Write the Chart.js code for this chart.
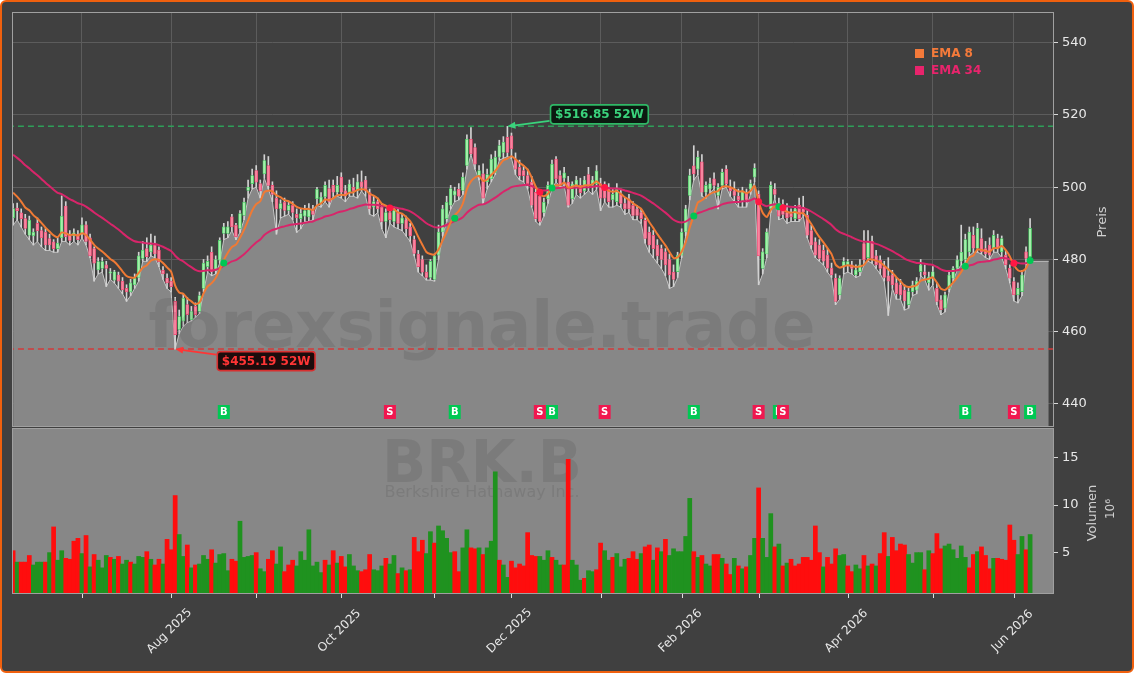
<!DOCTYPE html>
<html>
<head>
<meta charset="utf-8">
<script src="https://cdn.jsdelivr.net/npm/chart.js@4.4.1/dist/chart.umd.min.js"></script>
<style>
    html, body { margin: 0; padding: 0; background: #ffffff; }
    #frame { position: absolute; left: 0; top: 0; width: 1134px; height: 673px; box-sizing: border-box;
             border: 2px solid #f0600e; border-radius: 6px; background: #404040; }
    canvas { position: absolute; left: 0; }
</style>
</head>
<body>
<div id="frame"></div>
<canvas id="priceChart" width="1134" height="430" style="top:0px"></canvas>
<canvas id="volChart" width="1134" height="245" style="top:428px"></canvas>
<script>
// ========== DATA (BRK.B daily, Jun 2025 - Jun 2026) ==========
const opens = [
    491.5, 494.2, 492.9, 491.3, 486.7, 486.5, 490.0, 488.0, 487.6, 485.8,
    484.9, 483.0, 486.0, 494.8, 486.9, 486.5, 487.0, 487.2, 489.6, 486.0,
    483.0, 477.1, 477.5, 478.5, 476.2, 474.3, 475.7, 474.0, 472.0, 471.0,
    473.0, 475.0, 480.3, 483.0, 482.1, 484.0, 482.6, 477.0, 474.8, 474.0,
    468.4, 460.6, 462.9, 467.5, 463.3, 467.0, 465.6, 472.0, 478.0, 482.0,
    477.0, 479.8, 487.2, 487.2, 491.8, 489.5, 488.6, 492.2, 499.1, 501.0,
    504.6, 501.0, 503.7, 506.0, 500.5, 497.0, 494.0, 495.9, 493.6, 495.0,
    492.5, 491.3, 492.0, 491.8, 494.0, 496.8, 495.5, 497.3, 499.6, 500.5,
    498.6, 502.8, 499.0, 498.6, 500.0, 499.0, 501.5, 502.0, 498.5, 494.5,
    496.0, 494.5, 490.5, 493.0, 490.5, 493.0, 490.0, 491.0, 489.0, 485.5,
    481.5, 480.0, 476.5, 475.0, 474.5, 481.2, 487.6, 491.3, 495.0, 497.8,
    499.5, 499.1, 506.0, 513.3, 511.0, 503.2, 503.7, 501.5, 502.3, 504.1,
    508.3, 509.6, 513.8, 514.2, 507.8, 505.5, 504.6, 503.2, 501.4, 498.6,
    497.5, 493.0, 496.8, 500.5, 507.8, 503.2, 502.5, 501.4, 496.8, 500.0,
    500.5, 499.0, 503.5, 500.5, 501.0, 501.0, 500.5, 499.5, 496.5, 496.0,
    498.0, 495.5, 496.8, 495.0, 494.0, 493.0, 490.8, 487.5, 486.7, 484.0,
    483.0, 482.1, 480.0, 476.5, 476.6, 481.2, 487.6, 497.7, 505.9, 505.0,
    507.0, 498.6, 499.5, 502.3, 497.7, 500.5, 505.0, 500.0, 499.0, 497.5,
    496.0, 498.5, 499.5, 502.8, 498.0, 477.5, 481.5, 494.0, 499.5, 495.5,
    494.0, 493.0, 492.7, 491.3, 495.0, 494.5, 492.2, 488.0, 484.9, 484.0,
    482.5, 481.2, 477.6, 474.8, 470.2, 478.0, 478.5, 478.5, 475.7, 476.6,
    484.4, 480.5, 485.0, 481.0, 479.8, 478.0, 475.5, 475.7, 473.5, 473.0,
    471.5, 467.5, 471.1, 471.5, 476.6, 476.6, 473.5, 474.8, 472.0, 468.8,
    466.5, 472.0, 474.8, 477.6, 479.5, 480.0, 482.1, 486.7, 483.1, 485.8,
    483.0, 484.0, 483.1, 485.8, 482.1, 481.2, 477.6, 473.9, 470.2, 471.1,
    482.1, 480.8
];
const highs = [
    495.5, 495.6, 494.0, 492.5, 492.0, 488.5, 491.5, 489.0, 488.5, 487.0,
    485.5, 486.0, 497.6, 496.0, 488.0, 488.5, 488.0, 491.5, 490.5, 487.0,
    483.5, 480.5, 480.5, 479.5, 477.5, 477.0, 476.5, 475.0, 473.0, 474.5,
    476.0, 482.0, 485.0, 486.0, 487.0, 486.5, 483.5, 478.0, 476.0, 475.0,
    469.5, 466.0, 470.5, 469.5, 467.0, 468.0, 471.0, 480.0, 481.0, 483.5,
    481.0, 486.0, 490.0, 490.5, 492.5, 490.0, 493.5, 497.0, 502.0, 505.0,
    506.0, 502.0, 509.0, 508.5, 501.5, 499.0, 496.5, 497.0, 496.0, 496.0,
    494.0, 494.0, 495.0, 495.5, 495.0, 500.0, 498.5, 501.5, 502.0, 502.0,
    503.0, 504.0, 500.5, 502.0, 502.5, 503.5, 504.5, 503.0, 499.5, 497.5,
    497.0, 495.5, 494.0, 494.0, 494.5, 494.0, 492.5, 492.0, 490.0, 486.5,
    482.5, 481.0, 478.5, 480.0, 481.5, 489.5, 495.0, 497.5, 500.5, 500.0,
    501.0, 504.0, 514.5, 516.5, 512.0, 506.0, 506.5, 505.0, 509.0, 510.0,
    513.0, 514.0, 516.85, 515.0, 509.5, 507.5, 506.0, 505.0, 503.0, 500.0,
    499.0, 497.0, 501.5, 507.5, 508.5, 504.5, 505.5, 503.0, 501.5, 503.0,
    502.5, 503.0, 505.5, 503.0, 506.0, 502.5, 501.5, 501.0, 499.5, 501.0,
    499.5, 497.0, 498.0, 496.0, 495.0, 494.0, 491.5, 489.0, 488.0, 485.5,
    484.0, 483.0, 481.5, 478.5, 482.0, 488.5, 495.0, 505.0, 511.5, 510.0,
    509.0, 501.5, 502.5, 504.0, 501.0, 505.0, 506.0, 502.0, 501.5, 499.5,
    500.0, 499.5, 502.0, 506.5, 499.0, 483.0, 488.5, 501.5, 501.0, 497.0,
    496.5, 495.5, 494.0, 495.0, 497.0, 497.5, 493.5, 489.5, 486.0, 485.5,
    484.0, 483.0, 479.0, 476.0, 475.5, 480.5, 480.0, 479.5, 478.5, 480.0,
    488.0, 488.0, 486.5, 482.5, 481.0, 479.5, 480.5, 477.0, 475.0, 474.5,
    473.0, 472.0, 474.0, 475.0, 480.0, 478.5, 476.5, 478.0, 473.5, 470.0,
    471.0, 476.5, 478.0, 481.0, 489.5, 487.0, 489.0, 489.0, 490.0, 488.5,
    485.0, 486.0, 488.0, 487.0, 486.5, 482.5, 478.5, 475.0, 473.5, 477.0,
    483.5, 491.3
];
const lows = [
    489.5, 491.0, 489.0, 487.0, 485.5, 484.0, 485.0, 483.5, 482.5, 482.5,
    482.0, 482.0, 485.0, 485.0, 484.0, 485.0, 484.0, 486.0, 484.0, 480.5,
    474.0, 476.0, 476.5, 472.5, 474.5, 473.5, 472.0, 470.5, 468.4, 470.0,
    472.0, 474.0, 479.5, 479.5, 481.0, 480.5, 478.0, 474.5, 472.0, 471.0,
    455.19, 459.5, 461.5, 462.5, 463.0, 464.0, 465.0, 471.0, 476.5, 475.5,
    476.0, 479.0, 485.5, 486.0, 488.0, 485.5, 487.5, 491.0, 497.0, 499.5,
    500.0, 497.0, 502.5, 499.5, 496.0, 487.0, 491.5, 492.0, 492.5, 491.0,
    487.5, 488.5, 490.5, 490.5, 491.0, 495.0, 494.5, 496.0, 494.5, 497.5,
    497.5, 497.0, 496.0, 497.5, 497.5, 497.0, 499.0, 497.5, 492.5, 492.0,
    493.0, 488.5, 486.0, 490.0, 489.0, 488.5, 488.0, 486.5, 485.0, 481.0,
    476.5, 475.5, 474.3, 474.3, 474.0, 480.0, 486.5, 490.5, 494.0, 496.0,
    496.5, 498.0, 505.0, 509.0, 505.0, 502.0, 495.5, 499.5, 501.5, 503.5,
    507.5, 508.0, 508.5, 508.0, 503.5, 502.0, 501.5, 499.5, 494.5, 490.5,
    489.5, 492.0, 495.5, 499.5, 501.5, 500.0, 500.5, 494.5, 495.5, 498.0,
    497.0, 498.0, 499.0, 498.0, 499.5, 493.5, 496.0, 494.5, 494.5, 495.0,
    494.5, 492.5, 493.0, 491.0, 491.0, 490.0, 484.5, 482.0, 480.5, 479.0,
    477.5, 475.5, 472.0, 472.5, 475.0, 480.5, 486.5, 496.5, 502.0, 503.5,
    497.5, 497.0, 498.5, 499.5, 494.0, 499.5, 500.0, 497.5, 496.0, 494.5,
    494.5, 494.5, 498.0, 501.5, 473.0, 476.0, 480.5, 493.0, 497.0, 491.0,
    491.5, 490.0, 490.5, 490.5, 490.5, 492.0, 486.0, 483.0, 480.5, 479.5,
    478.5, 476.5, 475.0, 467.5, 469.0, 476.0, 476.5, 476.0, 475.0, 475.5,
    478.5, 479.5, 479.0, 477.5, 476.0, 474.0, 464.5, 472.0, 469.0, 469.0,
    466.0, 466.5, 470.0, 470.5, 475.5, 474.5, 471.5, 473.0, 467.5, 464.7,
    465.5, 471.0, 474.0, 477.0, 478.5, 479.0, 481.0, 482.0, 482.0, 481.5,
    480.5, 480.0, 482.0, 482.0, 480.5, 477.5, 473.5, 468.5, 468.0, 470.0,
    478.5, 479.5
];
const closes = [
    494.1, 493.5, 491.3, 488.6, 490.9, 487.6, 488.0, 486.0, 484.0, 484.0,
    483.0, 484.5, 492.0, 486.3, 485.3, 487.4, 485.5, 489.6, 485.0, 481.0,
    479.0, 479.4, 479.4, 477.5, 476.6, 476.6, 474.0, 471.6, 471.0, 473.5,
    474.8, 481.0, 482.6, 480.8, 484.0, 481.5, 479.4, 476.0, 473.5, 472.5,
    459.2, 464.2, 469.3, 464.7, 465.6, 464.7, 470.0, 479.0, 479.5, 476.6,
    480.0, 485.3, 489.0, 489.0, 489.0, 486.3, 492.7, 495.9, 500.0, 503.2,
    501.4, 499.0, 507.4, 500.5, 498.0, 494.0, 495.5, 493.6, 495.0, 493.0,
    491.5, 492.7, 493.5, 494.0, 492.5, 499.5, 497.3, 500.5, 495.9, 498.6,
    500.5, 498.6, 497.5, 500.9, 499.0, 501.5, 500.0, 499.0, 494.0, 496.0,
    494.0, 490.5, 493.0, 491.0, 493.5, 490.0, 491.5, 488.5, 486.5, 481.7,
    478.0, 476.5, 475.0, 479.5, 481.0, 487.6, 494.0, 495.9, 499.6, 499.0,
    497.5, 502.8, 513.3, 509.2, 506.4, 504.6, 497.0, 503.5, 507.8, 508.3,
    511.5, 512.5, 509.6, 510.6, 505.0, 503.2, 503.2, 501.0, 495.0, 491.3,
    490.5, 495.9, 500.5, 506.4, 502.3, 500.5, 504.0, 495.0, 500.9, 502.0,
    498.5, 502.0, 500.5, 502.0, 504.5, 497.0, 497.0, 496.0, 498.0, 499.5,
    495.5, 494.0, 494.0, 492.2, 492.2, 491.3, 485.8, 484.0, 483.0, 481.0,
    480.0, 478.5, 475.7, 474.5, 481.2, 487.6, 494.0, 503.2, 503.7, 508.3,
    498.6, 500.5, 501.0, 500.5, 500.0, 504.1, 500.9, 499.0, 497.7, 496.5,
    499.0, 496.5, 501.0, 505.2, 481.0, 482.1, 487.6, 500.5, 498.0, 492.0,
    492.5, 491.5, 491.8, 494.0, 491.3, 493.1, 486.7, 484.0, 481.2, 480.3,
    479.5, 477.6, 475.7, 468.4, 474.8, 479.4, 479.4, 477.5, 477.1, 478.5,
    479.9, 485.0, 480.3, 478.5, 477.5, 475.0, 474.0, 473.0, 470.5, 470.2,
    468.5, 471.1, 473.0, 474.0, 478.5, 475.7, 475.2, 476.6, 468.4, 466.1,
    470.2, 475.7, 477.5, 479.9, 482.0, 485.5, 487.6, 483.1, 488.6, 482.1,
    481.5, 481.2, 486.7, 483.1, 485.8, 478.5, 474.8, 470.2, 472.0, 475.7,
    480.3, 488.6
];
// volume in millions, and direction of each volume bar (1 = green, 0 = red)
const volumes = [
    5.2, 4.0, 4.0, 4.0, 4.7, 3.7, 4.0, 4.0, 4.0, 5.0,
    7.7, 4.2, 5.2, 4.4, 4.3, 6.2, 6.5, 4.9, 6.8, 3.5,
    4.8, 4.2, 3.4, 4.7, 4.5, 4.3, 4.6, 3.8, 4.2, 4.0,
    3.8, 4.6, 4.5, 5.1, 4.3, 3.7, 4.3, 3.8, 6.4, 5.3,
    11.0, 6.9, 4.6, 5.8, 3.4, 3.7, 3.8, 4.7, 4.3, 5.3,
    3.9, 4.8, 4.9, 3.1, 4.3, 4.1, 8.3, 4.5, 4.6, 4.7,
    5.0, 3.3, 3.0, 4.3, 5.2, 3.8, 5.6, 3.0, 3.7, 4.2,
    3.6, 5.1, 4.2, 7.4, 3.6, 4.0, 2.9, 4.2, 3.7, 5.2,
    3.9, 4.6, 3.5, 4.8, 3.6, 3.1, 3.0, 3.2, 4.8, 3.2,
    3.1, 3.6, 4.4, 3.8, 4.7, 2.8, 3.4, 3.1, 3.2, 6.6,
    5.1, 6.3, 4.9, 7.2, 6.0, 7.8, 7.3, 6.5, 5.0, 5.1,
    3.0, 5.5, 7.4, 5.5, 5.4, 5.5, 4.8, 5.5, 6.2, 13.5,
    4.2, 3.7, 2.4, 4.1, 3.4, 3.8, 3.6, 7.1, 4.7, 4.6,
    4.6, 4.2, 5.2, 4.5, 4.2, 3.7, 3.7, 14.8, 4.2, 3.7,
    2.1, 2.3, 3.1, 3.0, 3.2, 6.0, 5.2, 4.2, 4.5, 4.9,
    3.5, 4.3, 4.4, 5.1, 4.3, 4.9, 5.6, 5.8, 4.2, 5.5,
    5.1, 6.4, 4.7, 5.4, 5.1, 5.1, 6.7, 10.7, 5.1, 4.5,
    4.7, 3.8, 3.6, 4.8, 4.8, 4.4, 3.8, 2.7, 4.4, 3.6,
    3.3, 3.5, 4.7, 6.5, 11.8, 6.5, 4.5, 9.1, 5.6, 5.9,
    3.6, 3.9, 4.3, 3.6, 3.8, 4.5, 4.5, 4.2, 7.8, 5.0,
    3.5, 4.5, 3.8, 5.4, 4.7, 4.8, 3.6, 3.0, 3.7, 3.3,
    4.7, 3.6, 3.8, 3.6, 4.9, 7.1, 4.6, 6.6, 5.2, 5.9,
    5.8, 4.8, 3.9, 5.0, 5.0, 3.2, 5.2, 4.9, 7.0, 5.4,
    5.7, 5.9, 5.3, 4.4, 5.7, 4.5, 3.4, 4.8, 5.1, 5.6,
    4.7, 3.3, 4.4, 4.4, 4.3, 4.2, 7.9, 6.3, 4.8, 6.7,
    5.3, 6.9
];
const volUp = [
    0, 1, 0, 0, 0, 1, 1, 1, 0, 1,
    0, 1, 1, 0, 0, 0, 0, 1, 0, 1,
    0, 1, 1, 1, 0, 1, 0, 1, 1, 0,
    1, 1, 1, 0, 1, 0, 0, 1, 0, 0,
    0, 1, 1, 0, 1, 0, 1, 1, 1, 0,
    1, 1, 1, 1, 0, 0, 1, 1, 1, 1,
    0, 1, 1, 0, 0, 1, 1, 0, 0, 0,
    1, 1, 1, 1, 1, 1, 1, 0, 1, 0,
    1, 0, 0, 1, 1, 1, 0, 0, 0, 1,
    1, 1, 0, 1, 1, 0, 1, 0, 1, 0,
    0, 0, 1, 1, 0, 1, 1, 1, 1, 0,
    0, 1, 1, 0, 0, 1, 0, 1, 1, 1,
    0, 1, 1, 0, 0, 0, 0, 0, 0, 0,
    1, 1, 1, 0, 1, 1, 0, 0, 1, 1,
    1, 0, 1, 1, 0, 0, 1, 1, 0, 1,
    1, 1, 0, 0, 0, 1, 0, 0, 1, 0,
    1, 0, 1, 1, 1, 1, 1, 1, 0, 1,
    0, 1, 1, 0, 0, 1, 0, 0, 1, 0,
    1, 0, 1, 1, 0, 1, 1, 1, 0, 1,
    0, 1, 0, 0, 0, 0, 0, 0, 0, 0,
    1, 0, 0, 0, 1, 1, 0, 0, 1, 1,
    0, 1, 0, 1, 0, 0, 1, 0, 0, 0,
    0, 1, 1, 1, 1, 0, 1, 0, 0, 0,
    1, 1, 1, 1, 1, 1, 0, 0, 1, 0,
    0, 0, 1, 0, 0, 0, 0, 0, 1, 1,
    0, 1
];

// EMA seed values (indicator level on the first visible bar)
const ema8Seed = 498.5;
const ema34Seed = 509.0;

// crossover signals (bar index, type)
const signalIdx = [52, 93, 109, 130, 133, 146, 168, 184, 189, 190, 235, 247, 251];
const signalType = ['B', 'S', 'B', 'S', 'B', 'S', 'B', 'S', 'B', 'S', 'B', 'S', 'B'];

// x axis: bar index of first trading day of each month
const monthIdx = [17, 39, 60, 81, 104, 123, 145, 165, 184, 206, 227, 247];
const monthLabels = ['', 'Aug 2025', '', 'Oct 2025', '', 'Dec 2025', '', 'Feb 2026', '', 'Apr 2026', '', 'Jun 2026'];
const priceTicks = [440, 460, 480, 500, 520, 540];
const volTicks = [5, 10, 15];
const fillEndIndex = 255.6;

// ========== HELPERS ==========
function calcEma(values, period, seed) {
    const k = 2 / (period + 1);
    const out = [];
    let prev = seed;
    values.forEach((v, i) => {
        prev = i === 0 ? seed : prev + k * (v - prev);
        out.push(prev);
    });
    return out;
}

const FONT = '"DejaVu Sans", sans-serif';
Chart.defaults.font.family = FONT;
Chart.defaults.color = '#e8e8e8';

const X_MIN = -0.27, X_MAX = 256.9;
const idx = closes.map((_, i) => i);
const ema8 = calcEma(closes, 8, ema8Seed);
const ema34 = calcEma(closes, 34, ema34Seed);
const hiVal = Math.max(...highs), hiIdx = highs.indexOf(hiVal);
const loVal = Math.min(...lows), loIdx = lows.indexOf(loVal);

// no extra label padding, so the plot areas land exactly where asked
function fixY(s) { s.width = 80; s.paddingTop = 0; s.paddingBottom = 0; }
function fixX(h) { return s => { s.height = h; s.paddingLeft = 0; s.paddingRight = 0; }; }

function roundRect(ctx, x, y, w, h, r) {
    ctx.beginPath();
    ctx.moveTo(x + r, y);
    ctx.arcTo(x + w, y, x + w, y + h, r);
    ctx.arcTo(x + w, y + h, x, y + h, r);
    ctx.arcTo(x, y + h, x, y, r);
    ctx.arcTo(x, y, x + w, y, r);
    ctx.closePath();
}

function drawTag(ctx, tipX, tipY, cx, cy, text, fg, edge, bg) {
    ctx.font = 'bold 12px ' + FONT;
    const w = ctx.measureText(text).width + 9, h = 19;
    const left = cx - w / 2, top = cy - h / 2;
    // arrow
    const sx = left - 1;
    const sy = Math.min(Math.max(tipY, top + 3), top + h - 3);
    const ang = Math.atan2(tipY - sy, tipX - sx);
    ctx.strokeStyle = fg;
    ctx.lineWidth = 1.8;
    ctx.beginPath();
    ctx.moveTo(sx, sy);
    ctx.lineTo(tipX - 6 * Math.cos(ang), tipY - 6 * Math.sin(ang));
    ctx.stroke();
    ctx.fillStyle = fg;
    ctx.beginPath();
    ctx.moveTo(tipX, tipY);
    ctx.lineTo(tipX - 8 * Math.cos(ang) + 3.5 * Math.sin(ang), tipY - 8 * Math.sin(ang) - 3.5 * Math.cos(ang));
    ctx.lineTo(tipX - 8 * Math.cos(ang) - 3.5 * Math.sin(ang), tipY - 8 * Math.sin(ang) + 3.5 * Math.cos(ang));
    ctx.closePath();
    ctx.fill();
    // box
    roundRect(ctx, left, top, w, h, 3);
    ctx.fillStyle = bg;
    ctx.fill();
    ctx.lineWidth = 1.6;
    ctx.strokeStyle = edge;
    ctx.stroke();
    ctx.fillStyle = fg;
    ctx.textAlign = 'center';
    ctx.textBaseline = 'middle';
    ctx.fillText(text, cx, cy + 1);
}

// ========== PRICE PANEL ==========
const priceDeco = {
    id: 'priceDeco',
    afterDatasetsDraw(chart) {
        const { ctx, chartArea: a, scales: { x, y } } = chart;
        ctx.save();
        // watermark
        ctx.font = 'bold 64px ' + FONT;
        ctx.fillStyle = 'rgba(40,40,40,0.12)';
        ctx.textAlign = 'center';
        ctx.textBaseline = 'alphabetic';
        ctx.fillText('forexsignale.trade', 482, 347);

        // B / S markers
        ctx.font = 'bold 10px ' + FONT;
        ctx.textAlign = 'center';
        ctx.textBaseline = 'middle';
        signalIdx.forEach((si, k) => {
            const px = x.getPixelForValue(si);
            const py = a.bottom - 14;
            ctx.fillStyle = signalType[k] === 'B' ? '#00c853' : '#f0174f';
            ctx.fillRect(px - 6, py - 7, 12, 14);
            ctx.fillStyle = '#ffffff';
            ctx.fillText(signalType[k], px, py + 0.5);
        });

        // 52W high / low tags
        const hx = x.getPixelForValue(hiIdx), hy = y.getPixelForValue(hiVal);
        drawTag(ctx, hx, hy, hx + 92, hy - 12, '$' + hiVal.toFixed(2) + ' 52W', '#3ad37c', '#2fb866', '#0c1a11');
        const lx = x.getPixelForValue(loIdx), ly = y.getPixelForValue(loVal);
        drawTag(ctx, lx, ly, lx + 91, ly + 12, '$' + loVal.toFixed(2) + ' 52W', '#ff3535', '#d83030', '#1c0c0c');

        // legend
        ctx.font = 'bold 12px ' + FONT;
        ctx.textAlign = 'left';
        ctx.textBaseline = 'middle';
        ctx.fillStyle = '#f47a3a';
        ctx.fillRect(915, 49, 9, 9);
        ctx.fillText('EMA 8', 931, 54);
        ctx.fillStyle = '#e8246c';
        ctx.fillRect(915, 66, 9, 9);
        ctx.fillText('EMA 34', 931, 71);

        // spines
        ctx.strokeStyle = '#a0a0a0';
        ctx.lineWidth = 1;
        ctx.strokeRect(a.left + 0.5, a.top + 0.5, a.right - a.left - 1, a.bottom - a.top);

        // axis title
        ctx.translate(1103, 222);
        ctx.rotate(-Math.PI / 2);
        ctx.font = '13px ' + FONT;
        ctx.fillStyle = '#d0d0d0';
        ctx.textAlign = 'center';
        ctx.fillText('Preis', 0, 0);
        ctx.restore();
    }
};

const lowFill = idx.map(i => ({ x: i, y: lows[i] }));
lowFill.push({ x: fillEndIndex, y: lows[lows.length - 1] });

new Chart(document.getElementById('priceChart'), {
    type: 'bar',
    data: {
        datasets: [
            {
                type: 'line', data: lowFill, fill: 'start',
                backgroundColor: '#878787', borderColor: '#c6c6c6', borderWidth: 1,
                pointRadius: 0, tension: 0, order: 10
            },
            {
                type: 'line', data: [{ x: X_MIN - 1, y: hiVal }, { x: X_MAX + 1, y: hiVal }],
                borderColor: '#2e9f58', borderWidth: 1.5, borderDash: [6, 4], pointRadius: 0, order: 9
            },
            {
                type: 'line', data: [{ x: X_MIN - 1, y: loVal }, { x: X_MAX + 1, y: loVal }],
                borderColor: '#d33b3b', borderWidth: 1.5, borderDash: [6, 4], pointRadius: 0, order: 9
            },
            {
                type: 'bar', data: idx.map(i => ({ x: i, y: [lows[i], highs[i]] })),
                backgroundColor: '#d2d2d2', barThickness: 1, grouped: false, order: 8
            },
            {
                type: 'bar', data: idx.map(i => ({ x: i, y: [opens[i], closes[i]] })),
                backgroundColor: idx.map(i => closes[i] >= opens[i] ? '#a4eeaa' : '#f7859f'),
                borderColor: idx.map(i => closes[i] >= opens[i] ? '#3fc45c' : '#e8466f'),
                borderWidth: 0.7, borderSkipped: false, barThickness: 3, grouped: false, order: 7
            },
            {
                type: 'line', data: idx.map(i => ({ x: i, y: ema34[i] })),
                borderColor: '#d8256a', borderWidth: 2, pointRadius: 0, tension: 0.2, order: 6
            },
            {
                type: 'line', data: idx.map(i => ({ x: i, y: ema8[i] })),
                borderColor: '#f07a34', borderWidth: 2, pointRadius: 0, tension: 0.2, order: 5
            },
            {
                type: 'line', showLine: false,
                data: signalIdx.map(si => ({ x: si, y: (ema8[si] + ema34[si]) / 2 })),
                pointRadius: 3.5, pointBorderWidth: 0,
                pointBackgroundColor: signalType.map(t => t === 'B' ? '#00c853' : '#ff1744'),
                order: 4
            }
        ]
    },
    options: {
        responsive: false,
        animation: false,
        devicePixelRatio: 1,
        layout: { padding: { left: 12, top: 12, right: 0, bottom: 2 } },
        plugins: { legend: { display: false }, tooltip: { enabled: false } },
        scales: {
            x: {
                type: 'linear', min: X_MIN, max: X_MAX, offset: false,
                afterBuildTicks: s => { s.ticks = monthIdx.map(v => ({ value: v })); },
                afterFit: fixX(0),
                ticks: { display: false },
                grid: { color: '#5c5c5c', drawTicks: false, offset: false },
                border: { display: false }
            },
            y: {
                position: 'right', min: 433.9, max: 548.5,
                afterBuildTicks: s => { s.ticks = priceTicks.map(v => ({ value: v })); },
                afterFit: fixY,
                ticks: { color: '#e8e8e8', font: { size: 13 }, padding: 4 },
                grid: { color: '#5c5c5c', tickColor: '#d8d8d8', tickLength: 4 },
                border: { display: false }
            }
        }
    },
    plugins: [priceDeco]
});

// ========== VOLUME PANEL ==========
const volDeco = {
    id: 'volDeco',
    beforeDatasetsDraw(chart) {
        const { ctx, chartArea: a } = chart;
        ctx.save();
        ctx.fillStyle = '#878787';
        ctx.fillRect(a.left, a.top, a.right - a.left, a.bottom - a.top);
        ctx.fillStyle = 'rgba(40,40,40,0.12)';
        ctx.textAlign = 'center';
        ctx.textBaseline = 'alphabetic';
        ctx.font = 'bold 58px ' + FONT;
        ctx.fillText('BRK.B', 482, 54);
        ctx.font = '16px ' + FONT;
        ctx.fillText('Berkshire Hathaway Inc.', 482, 69);
        ctx.restore();
    },
    afterDraw(chart) {
        const { ctx, chartArea: a, scales: { x } } = chart;
        ctx.save();
        ctx.strokeStyle = '#a0a0a0';
        ctx.lineWidth = 1;
        ctx.strokeRect(a.left + 0.5, a.top + 0.5, a.right - a.left - 1, a.bottom - a.top - 1);
        // month ticks and labels
        ctx.strokeStyle = '#e0e0e0';
        ctx.fillStyle = '#e8e8e8';
        ctx.font = '12px ' + FONT;
        ctx.textAlign = 'center';
        ctx.textBaseline = 'middle';
        monthIdx.forEach((m, k) => {
            const px = Math.round(x.getPixelForValue(m)) + 0.5;
            ctx.beginPath();
            ctx.moveTo(px, a.bottom);
            ctx.lineTo(px, a.bottom + 4);
            ctx.stroke();
            if (monthLabels[k]) {
                ctx.save();
                ctx.translate(px - 2, a.bottom + 37);
                ctx.rotate(-Math.PI / 4);
                ctx.fillText(monthLabels[k], 0, 0);
                ctx.restore();
            }
        });
        // axis title
        ctx.fillStyle = '#d0d0d0';
        ctx.font = '13px ' + FONT;
        ctx.save();
        ctx.translate(1093, 85);
        ctx.rotate(-Math.PI / 2);
        ctx.fillText('Volumen', 0, 0);
        ctx.restore();
        ctx.save();
        ctx.translate(1111, 81);
        ctx.rotate(-Math.PI / 2);
        ctx.font = '12px ' + FONT;
        ctx.fillText('10\u2076', 0, 0);
        ctx.restore();
        ctx.restore();
    }
};

new Chart(document.getElementById('volChart'), {
    type: 'bar',
    data: {
        datasets: [{
            data: idx.map(i => ({ x: i, y: volumes[i] })),
            backgroundColor: idx.map(i => volUp[i] ? '#1f921f' : '#ff0d0d'),
            barPercentage: 1, categoryPercentage: 1, borderWidth: 0, grouped: false
        }]
    },
    options: {
        responsive: false,
        animation: false,
        devicePixelRatio: 1,
        layout: { padding: { left: 12, top: 0, right: 0, bottom: 0 } },
        plugins: { legend: { display: false }, tooltip: { enabled: false } },
        scales: {
            x: {
                type: 'linear', min: X_MIN, max: X_MAX, offset: false,
                afterFit: fixX(79),
                ticks: { display: false },
                grid: { display: false },
                border: { display: false }
            },
            y: {
                position: 'right', min: 0.65, max: 18.1,
                afterBuildTicks: s => { s.ticks = volTicks.map(v => ({ value: v })); },
                afterFit: fixY,
                ticks: { color: '#e8e8e8', font: { size: 13 }, padding: 4 },
                grid: { drawOnChartArea: false, tickColor: '#d8d8d8', tickLength: 4 },
                border: { display: false }
            }
        }
    },
    plugins: [volDeco]
});
</script>
</body>
</html>
